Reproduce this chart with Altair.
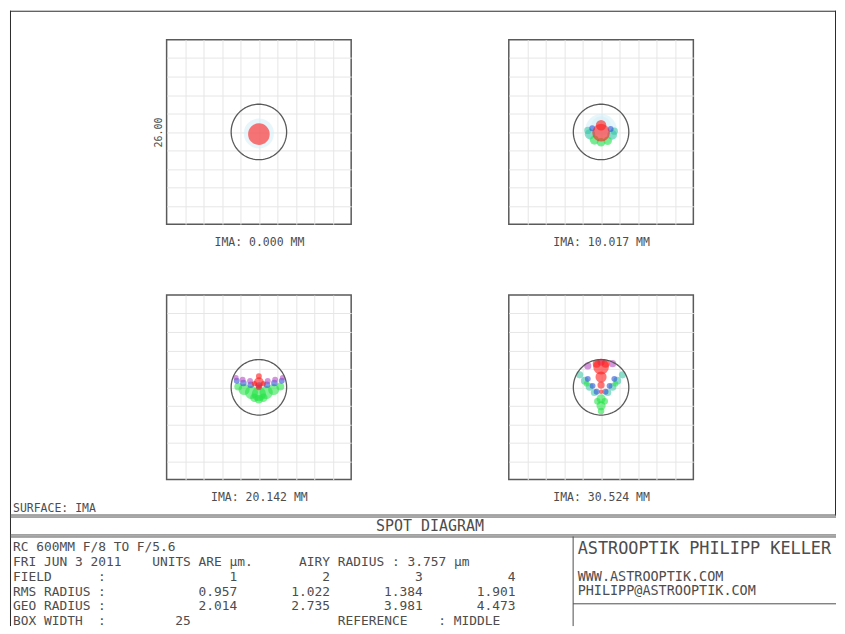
import altair as alt
import pandas as pd

MONO = "DejaVu Sans Mono"
INK = "#4d4d4d"
FRAME = "#2b2b2b"
GRID = "#e6e6e6"
BOX = "#5a5a5a"

# ---------------- values ----------------
field_numbers = [1, 2, 3, 4]
image_heights_mm = [0.000, 10.017, 20.142, 30.524]
rms_radius_um = [0.957, 1.022, 1.384, 1.901]
geo_radius_um = [2.014, 2.735, 3.981, 4.473]
airy_radius_um = 3.757
box_width_um = 25
scale_label = "26.00"
surface_name = "IMA"
title_text = "SPOT DIAGRAM"
lens_title = "RC 600MM F/8 TO F/5.6"
date_text = "FRI JUN 3 2011"
units_text = "UNITS ARE µm."
reference_text = "MIDDLE"
company_lines = ["ASTROOPTIK PHILIPP KELLER", "WWW.ASTROOPTIK.COM", "PHILIPP@ASTROOPTIK.COM"]

# spot clusters (µm), cluster radius (µm), wavelength colour group
spot1_x = [0.0, 0.0]
spot1_y = [-0.2, -0.3]
spot1_r = [2.3, 1.65]
spot1_w = ["halo", "red"]

spot2_x = [0.0, 0.0, -1.5, 1.5, -0.9, 0.9, 0.0, -1.8, 1.8, -1.2, 1.3, 0.0, 0.0]
spot2_y = [0.3, 0.8, -0.3, -0.4, -1.1, -1.2, -1.4, 0.2, 0.1, 0.5, 0.4, -0.1, 0.9]
spot2_r = [2.4, 1.5, 0.8, 0.75, 0.7, 0.65, 0.65, 0.55, 0.55, 0.45, 0.45, 1.35, 0.8]
spot2_w = ["halo", "halo", "teal", "teal", "green", "green", "green", "teal", "teal",
           "blue", "blue", "red", "red"]

spot3_x = [-2.8, -2.0, -1.0, 0.0, 1.0, 2.0, 2.9, 0.0, -0.6, 0.6,
           -3.0, -2.1, -1.1, 0.0, 1.1, 2.1, 3.1,
           -3.1, -2.2, -1.2, 1.2, 2.2, 3.2,
           0.0, 0.0, -0.6, 0.6, 0.0]
spot3_y = [0.1, -0.3, -0.7, -0.9, -0.7, -0.3, 0.1, -1.6, -1.4, -1.4,
           0.9, 0.6, 0.35, 0.25, 0.35, 0.6, 0.9,
           1.3, 1.05, 0.85, 0.85, 1.05, 1.3,
           0.7, 1.5, 0.5, 0.5, 0.0]
spot3_r = [0.6, 0.85, 1.0, 1.1, 1.0, 0.85, 0.6, 0.65, 0.65, 0.65,
           0.45, 0.5, 0.5, 0.5, 0.5, 0.5, 0.45,
           0.4, 0.45, 0.45, 0.45, 0.45, 0.4,
           0.75, 0.45, 0.4, 0.4, 0.45]
spot3_w = ["green"] * 10 + ["blue"] * 7 + ["magenta"] * 6 + ["red"] * 5

spot4_x = [-2.9, -2.2, -1.55, -0.9, 2.9, 2.2, 1.55, 0.9,
           0.0, 0.0, 0.0, -1.95, 1.95, -0.5, 0.5,
           -1.8, -1.15, -0.6, 1.8, 1.15, 0.6,
           -1.8, 1.55, 0.0,
           0.0, -0.6, 0.6, 0.0, 0.0, 0.0]
spot4_y = [1.7, 0.9, 0.07, -0.7, 1.7, 0.9, 0.07, -0.7,
           -1.55, -2.5, -3.2, 0.5, 0.5, -1.9, -1.9,
           1.15, 0.2, -0.6, 1.15, 0.2, -0.6,
           2.9, 3.2, 3.4,
           2.8, 3.2, 3.2, 1.4, 0.3, -0.6]
spot4_r = [0.55, 0.6, 0.6, 0.55, 0.55, 0.6, 0.6, 0.55,
           0.7, 0.7, 0.5, 0.45, 0.45, 0.5, 0.5,
           0.45, 0.45, 0.45, 0.45, 0.45, 0.45,
           0.55, 0.55, 0.55,
           1.2, 0.6, 0.6, 0.85, 0.55, 0.35]
spot4_w = ["teal"] * 8 + ["green"] * 7 + ["blue"] * 6 + ["magenta"] * 3 + ["red"] * 6

spots = [
    (spot1_x, spot1_y, spot1_r, spot1_w),
    (spot2_x, spot2_y, spot2_r, spot2_w),
    (spot3_x, spot3_y, spot3_r, spot3_w),
    (spot4_x, spot4_y, spot4_r, spot4_w),
]

wave_domain = ["halo", "teal", "green", "blue", "magenta", "red"]
wave_range = ["#d3eff7", "#34c6a4", "#22e244", "#2d50d6", "#b64ac2", "#ff1c1c"]
wave_alpha = [0.55, 0.6, 0.75, 0.75, 0.75, 0.95]

# ---------------- layout ----------------
PANEL = 185
half = box_width_um / 2
grid_vals = [-half + box_width_um / 10 * k for k in range(1, 10)]
size_max = 3.14159265 * (PANEL / 2) ** 2

PAGE_W, PAGE_H = 829, 618      # window minus the 8px page margins
dummy = pd.DataFrame({"v": [0]})


def hrule(x0, x1, y, w=1, color=FRAME):
    return alt.Chart(dummy).mark_rule(color=color, strokeWidth=w, clip=True).encode(
        x=alt.value(x0), x2=alt.value(x1), y=alt.value(y))


def vrule(x, y0, y1, w=1, color=FRAME):
    return alt.Chart(dummy).mark_rule(color=color, strokeWidth=w, clip=True).encode(
        x=alt.value(x), y=alt.value(y0), y2=alt.value(y1))


def label(txt, x, y, size, align="left"):
    return alt.Chart(dummy).mark_text(
        font=MONO, fontSize=size, color=INK, align=align, baseline="middle", clip=True
    ).encode(x=alt.value(x), y=alt.value(y), text=alt.value(txt))


def blank(w, h):
    return alt.Chart(dummy).mark_rule(strokeWidth=0, opacity=0).encode(
        x=alt.value(1), x2=alt.value(1), y=alt.value(1), y2=alt.value(1)
    ).properties(width=w, height=h)


def panel(k, ytitle):
    xs, ys, rs, ws = spots[k]
    df = pd.DataFrame({"sx": xs, "sy": ys, "r": rs, "wave": ws})
    df["z"] = df["wave"].map(wave_domain.index)
    df = df.sort_values("z", kind="stable")
    xtitle = f"IMA: {image_heights_mm[k]:.3f} MM"
    sc = alt.Scale(domain=[-half, half], nice=False, zero=False)
    xax = alt.Axis(values=grid_vals, labels=False, ticks=False, domain=False, grid=True,
                   gridColor=GRID, gridWidth=1, title=xtitle, titleFont=MONO,
                   titleFontSize=11.5, titleFontWeight="normal", titleColor=INK,
                   titlePadding=12)
    yax = alt.Axis(values=grid_vals, labels=False, ticks=False, domain=False, grid=True,
                   gridColor=GRID, gridWidth=1, title=ytitle, titleFont=MONO,
                   titleFontSize=10, titleFontWeight="normal", titleColor=INK,
                   titlePadding=3)
    dots = alt.Chart(df).mark_circle().encode(
        x=alt.X("sx:Q", scale=sc, axis=xax),
        y=alt.Y("sy:Q", scale=sc, axis=yax),
        size=alt.Size("r:Q", scale=alt.Scale(type="pow", exponent=2, domain=[0, half],
                                             range=[0, size_max]), legend=None),
        color=alt.Color("wave:N", scale=alt.Scale(domain=wave_domain, range=wave_range),
                        legend=None),
        opacity=alt.Opacity("wave:N", scale=alt.Scale(domain=wave_domain, range=wave_alpha),
                            legend=None),
    )
    ring = alt.Chart(alt.sequence(0, 361, 3, as_="deg")).transform_calculate(
        cx=f"{airy_radius_um}*cos(datum.deg*PI/180)",
        cy=f"{airy_radius_um}*sin(datum.deg*PI/180)",
    ).mark_line(color=BOX, strokeWidth=1.3).encode(
        x=alt.X("cx:Q", scale=sc, axis=xax),
        y=alt.Y("cy:Q", scale=sc, axis=yax),
        order="deg:Q",
    )
    return alt.layer(dots, ring).properties(
        width=PANEL, height=PANEL,
        view=alt.ViewBackground(stroke=BOX, strokeWidth=1.5),
    )


# ---- panel grid: columns gapL | panel | gap | panel ; rows top | panels | gap | panels
COLS = [158, PANEL, 158, PANEL]
ROWS = [30, PANEL, 71, PANEL]
p = [panel(0, scale_label), panel(1, None), panel(2, None), panel(3, None)]
grid_cells = (
    [blank(COLS[i], ROWS[0]) for i in range(4)]
    + [blank(COLS[0], ROWS[1]), p[0], blank(COLS[2], ROWS[1]), p[1]]
    + [blank(COLS[i], ROWS[2]) for i in range(4)]
    + [blank(COLS[0], ROWS[3]), p[2], blank(COLS[2], ROWS[3]), p[3]]
)
panel_grid = alt.concat(*grid_cells, columns=4, spacing=0, bounds="flush")

# ---- sheet overlay: frame, footer rules and the footer text table (character grid)
CH = 7.75
left_cells = [(0, 0, lens_title),
              (1, 0, date_text), (1, 18, units_text),
              (1, 37, f"AIRY RADIUS : {airy_radius_um:.3f} µm")]
for rr, name in [(2, "FIELD"), (3, "RMS RADIUS"), (4, "GEO RADIUS"), (5, "BOX WIDTH")]:
    left_cells += [(rr, 0, name), (rr, 11, ":")]
left_cells += [(5, 42, "REFERENCE"), (5, 55, f": {reference_text}")]

right_cells = []
for j in range(4):
    right_cells.append((2, 29 + 12 * j, str(field_numbers[j])))
    right_cells.append((3, 29 + 12 * j, f"{rms_radius_um[j]:.3f}"))
    right_cells.append((4, 29 + 12 * j, f"{geo_radius_um[j]:.3f}"))
right_cells.append((5, 23, str(box_width_um)))

col_sc = alt.Scale(domain=[0, 100], range=[4, 4 + 100 * CH])
row_sc = alt.Scale(domain=[0, 5], range=[539, 613])


def cells(items, align):
    df = pd.DataFrame(items, columns=["row", "col", "txt"])
    return alt.Chart(df).mark_text(
        font=MONO, fontSize=12.9, color=INK, align=align, baseline="middle", clip=True
    ).encode(
        x=alt.X("col:Q", scale=col_sc, axis=None),
        y=alt.Y("row:Q", scale=row_sc, axis=None),
        text="txt:N",
    )


sheet = alt.layer(
    vrule(1.5, 1, PAGE_H), hrule(1, PAGE_W, 1.5), vrule(828.5, 1, 507),
    label(f"SURFACE: {surface_name}", 4, 500, 11.5),
    hrule(1, PAGE_W, 506.5, color=INK), hrule(1, PAGE_W, 508.5, color=INK),
    label(title_text, 422, 517.5, 15, align="center"),
    hrule(1, PAGE_W, 526.5, color=INK), hrule(1, PAGE_W, 528.5, color=INK),
    vrule(565.5, 528, PAGE_H, color=INK),
    hrule(565.5, PAGE_W, 595.5, color=INK),
    cells(left_cells, "left"),
    cells(right_cells, "right"),
    label(company_lines[0], 570, 541, 16.9),
    label(company_lines[1], 570, 569, 13.5),
    label(company_lines[2], 570, 583, 13.5),
).properties(width=PAGE_W, height=PAGE_H)

# the panel grid (a nested layout) takes no room in a flush layout, so the sheet overlays it
chart = alt.vconcat(panel_grid, sheet, spacing=0, bounds="flush").properties(
    padding=0, background="white"
).configure_view(stroke="transparent")

chart.save("out.html", embed_options={"renderer": "svg", "actions": False})
